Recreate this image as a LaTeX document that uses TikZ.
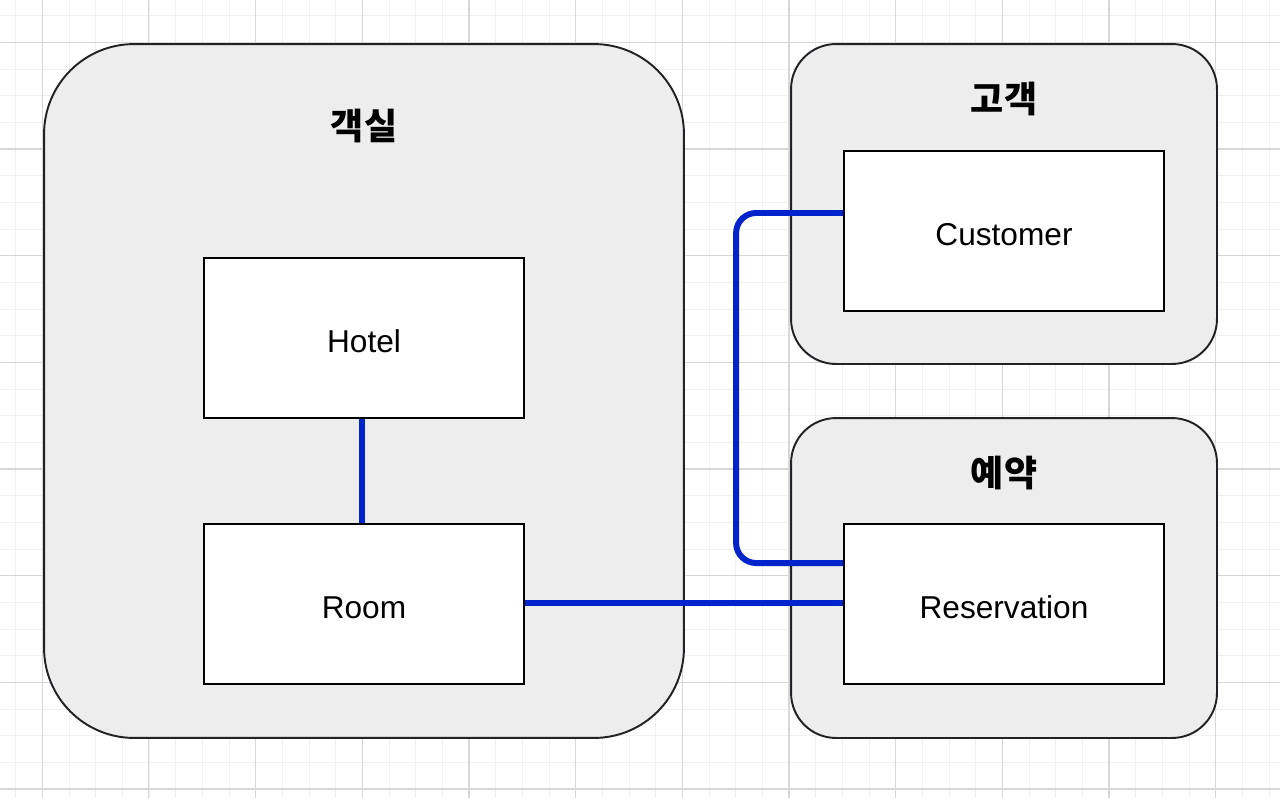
\documentclass[tikz,border=0pt]{standalone}
\usepackage{fontspec}
\setmainfont{Liberation Sans}
\newfontfamily\kofont{Noto Sans CJK KR}
\usepackage{tikz}
\usetikzlibrary{positioning, calc}
\definecolor{gridminor}{RGB}{240, 240, 240}
\definecolor{gridmajor}{RGB}{215, 215, 215}
\definecolor{panelgray}{RGB}{237, 237, 237}
\definecolor{edgegray}{RGB}{34, 34, 38}
\definecolor{linkblue}{RGB}{0, 36, 204}

\begin{document}
\begin{tikzpicture}[
    x=0.02cm, y=-0.02cm,
    panel/.style={draw=edgegray, line width=1.1pt, fill=panelgray,
                  inner sep=0pt},
    entity/.style={draw=black, line width=1.1pt, fill=white,
                   minimum width=6.4cm, minimum height=3.2cm,
                   text height=16.3pt, text depth=0pt,
                   font=\fontsize{18}{20}\selectfont},
    title/.style={font=\kofont\bfseries\fontsize{20.5}{22}\selectfont},
    link/.style={draw=linkblue, line width=3.4pt},
]
    % background and grid
    \useasboundingbox (0,0) rectangle (1280,798);
    \fill[white] (0,0) rectangle (1280,798);
    \foreach \i in {0,...,47}
        \draw[gridminor, line width=0.6pt] (15.7+26.67*\i,0) -- (15.7+26.67*\i,798);
    \foreach \i in {0,...,29}
        \draw[gridminor, line width=0.6pt] (0,15.7+26.67*\i) -- (1280,15.7+26.67*\i);
    \foreach \i in {0,...,11}
        \draw[gridmajor, line width=0.6pt] (42.3+106.67*\i,0) -- (42.3+106.67*\i,798);
    \foreach \i in {0,...,7}
        \draw[gridmajor, line width=0.6pt] (0,42.3+106.67*\i) -- (1280,42.3+106.67*\i);

    % bounded contexts
    \node[panel, rounded corners=1.8cm, minimum width=12.8cm, minimum height=13.88cm]
        (room-ctx) at (364,391) {};
    \node[panel, rounded corners=0.9cm, minimum width=8.52cm, minimum height=6.4cm]
        (cust-ctx) at (1004,204) {};
    \node[panel, rounded corners=0.9cm, minimum width=8.52cm, minimum height=6.4cm]
        (resv-ctx) at (1004,578) {};

    \node[title, below=1.2cm of room-ctx.north] (room-title) {객실};
    \node[title, below=0.66cm of cust-ctx.north] (cust-title) {고객};
    \node[title, below=0.66cm of resv-ctx.north] (resv-title) {예약};

    % entities
    \node[entity] (hotel) at (364,338) {Hotel};
    \node[entity] (room)  at (364,604) {Room};
    \node[entity] (cust)  at (1004,231) {Customer};
    \node[entity] (resv)  at (1004,604) {Reservation};

    \draw[link] ([xshift=-0.04cm]hotel.south) -- ([xshift=-0.04cm]room.north);
    \draw[link] ([yshift=0.02cm]room.east) -- ([yshift=0.02cm]resv.west);
    \draw[link, rounded corners=0.4cm] ([yshift=0.36cm]cust.west) -- ++(-2.14cm,0)
        |- ([yshift=0.82cm]resv.west);
\end{tikzpicture}
\end{document}
